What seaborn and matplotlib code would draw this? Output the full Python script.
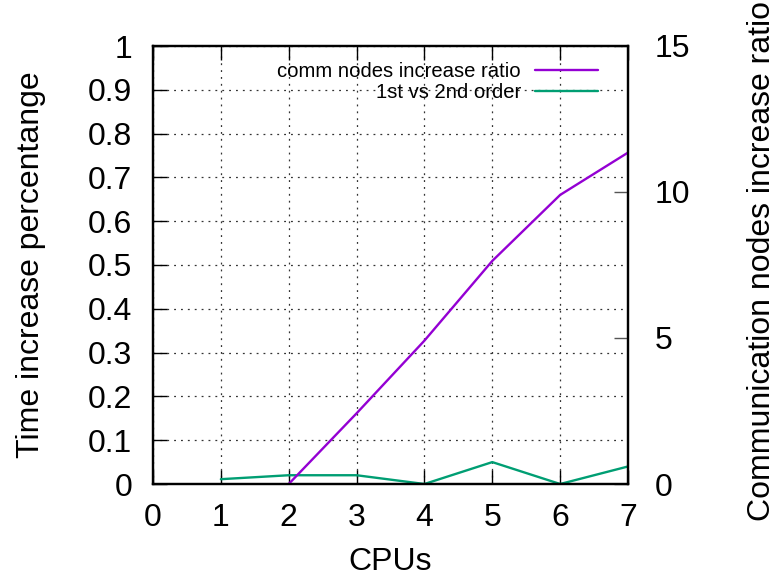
import matplotlib
matplotlib.use("Agg")
import matplotlib.pyplot as plt
import seaborn as sns
import pandas as pd

# CPU counts and measured series
cpus_ratio = [2, 3, 4, 5, 6, 7]
comm_ratio = [0.0, 2.42, 4.91, 7.64, 9.90, 11.35]

cpus_time = [1, 2, 3, 4, 5, 6, 7]
time_increase = [0.011, 0.02, 0.02, 0.0, 0.05, 0.0, 0.04]

x_ticks = [0, 1, 2, 3, 4, 5, 6, 7]
y_ticks = [0, 0.1, 0.2, 0.3, 0.4, 0.5, 0.6, 0.7, 0.8, 0.9, 1]
y_tick_labels = ["0", "0.1", "0.2", "0.3", "0.4", "0.5", "0.6", "0.7", "0.8", "0.9", "1"]
y2_ticks = [0, 5, 10, 15]

PURPLE = "#9400d3"
GREEN = "#009e73"
FS = 23

sns.set_style("white")
plt.rcParams["font.family"] = ["Liberation Sans", "DejaVu Sans"]
plt.rcParams["font.size"] = FS
plt.rcParams["text.color"] = "black"
plt.rcParams["axes.labelcolor"] = "black"
plt.rcParams["xtick.color"] = "black"
plt.rcParams["ytick.color"] = "black"

df_ratio = pd.DataFrame({"cpus": cpus_ratio, "ratio": comm_ratio})
df_time = pd.DataFrame({"cpus": cpus_time, "pct": time_increase})

fig = plt.figure(figsize=(7.79, 5.78), dpi=100)
ax = fig.add_axes([153 / 779, 1 - 484 / 578, 475 / 779, 438 / 578])
ax2 = ax.twinx()

sns.lineplot(data=df_time, x="cpus", y="pct", ax=ax, color=GREEN, lw=1.7,
             label="1st vs 2nd order", legend=False)
sns.lineplot(data=df_ratio, x="cpus", y="ratio", ax=ax2, color=PURPLE, lw=1.7,
             label="comm nodes increase ratio", legend=False)

ax.set_xlim(0, 7)
ax.set_ylim(0, 1)
ax2.set_ylim(0, 15)

ax.set_xticks(x_ticks)
ax.set_yticks(y_ticks)
ax.set_yticklabels(y_tick_labels)
ax2.set_yticks(y2_ticks)

ax.grid(True, linestyle=(0, (1.5, 4.0)), color="#333333", lw=0.9)
ax.set_axisbelow(True)

ax.tick_params(axis="x", direction="in", length=10, width=1, top=True,
               bottom=True, pad=14, labelsize=FS, labelcolor="black")
ax.tick_params(axis="y", direction="in", length=10, width=1, left=True,
               right=False, pad=15, labelsize=FS, labelcolor="black")
ax2.tick_params(axis="y", direction="in", length=10, width=1, right=True,
                pad=19, labelsize=FS, color="#555555", labelcolor="black")
ax2.tick_params(axis="x", top=False, bottom=False)

for a in (ax, ax2):
    for s in a.spines.values():
        s.set_visible(True)
        s.set_linewidth(1.6)
        s.set_color("black")

ax.set_xlabel("CPUs", fontsize=FS, color="black")
ax.set_ylabel("Time increase percentange", fontsize=FS, color="black")
ax2.set_ylabel("Communication nodes increase ratio", fontsize=FS, color="black")
ax.xaxis.set_label_coords(0.5, -0.143)
ax.yaxis.set_label_coords(-0.225, 0.5)
ax2.yaxis.set_label_coords(1.25, 0.51)

h2, l2 = ax2.get_legend_handles_labels()
h1, l1 = ax.get_legend_handles_labels()
leg = ax2.legend(h2 + h1, l2 + l1, loc="upper right",
                 bbox_to_anchor=((598 - 153) / 475, (484 - 62) / 438),
                 frameon=False, markerfirst=False, fontsize=14.6,
                 handlelength=3.1, handletextpad=0.7, labelspacing=0.08,
                 borderpad=0, borderaxespad=0)
for t in leg.get_texts():
    t.set_color("black")

fig.savefig("out.png", dpi=100)
